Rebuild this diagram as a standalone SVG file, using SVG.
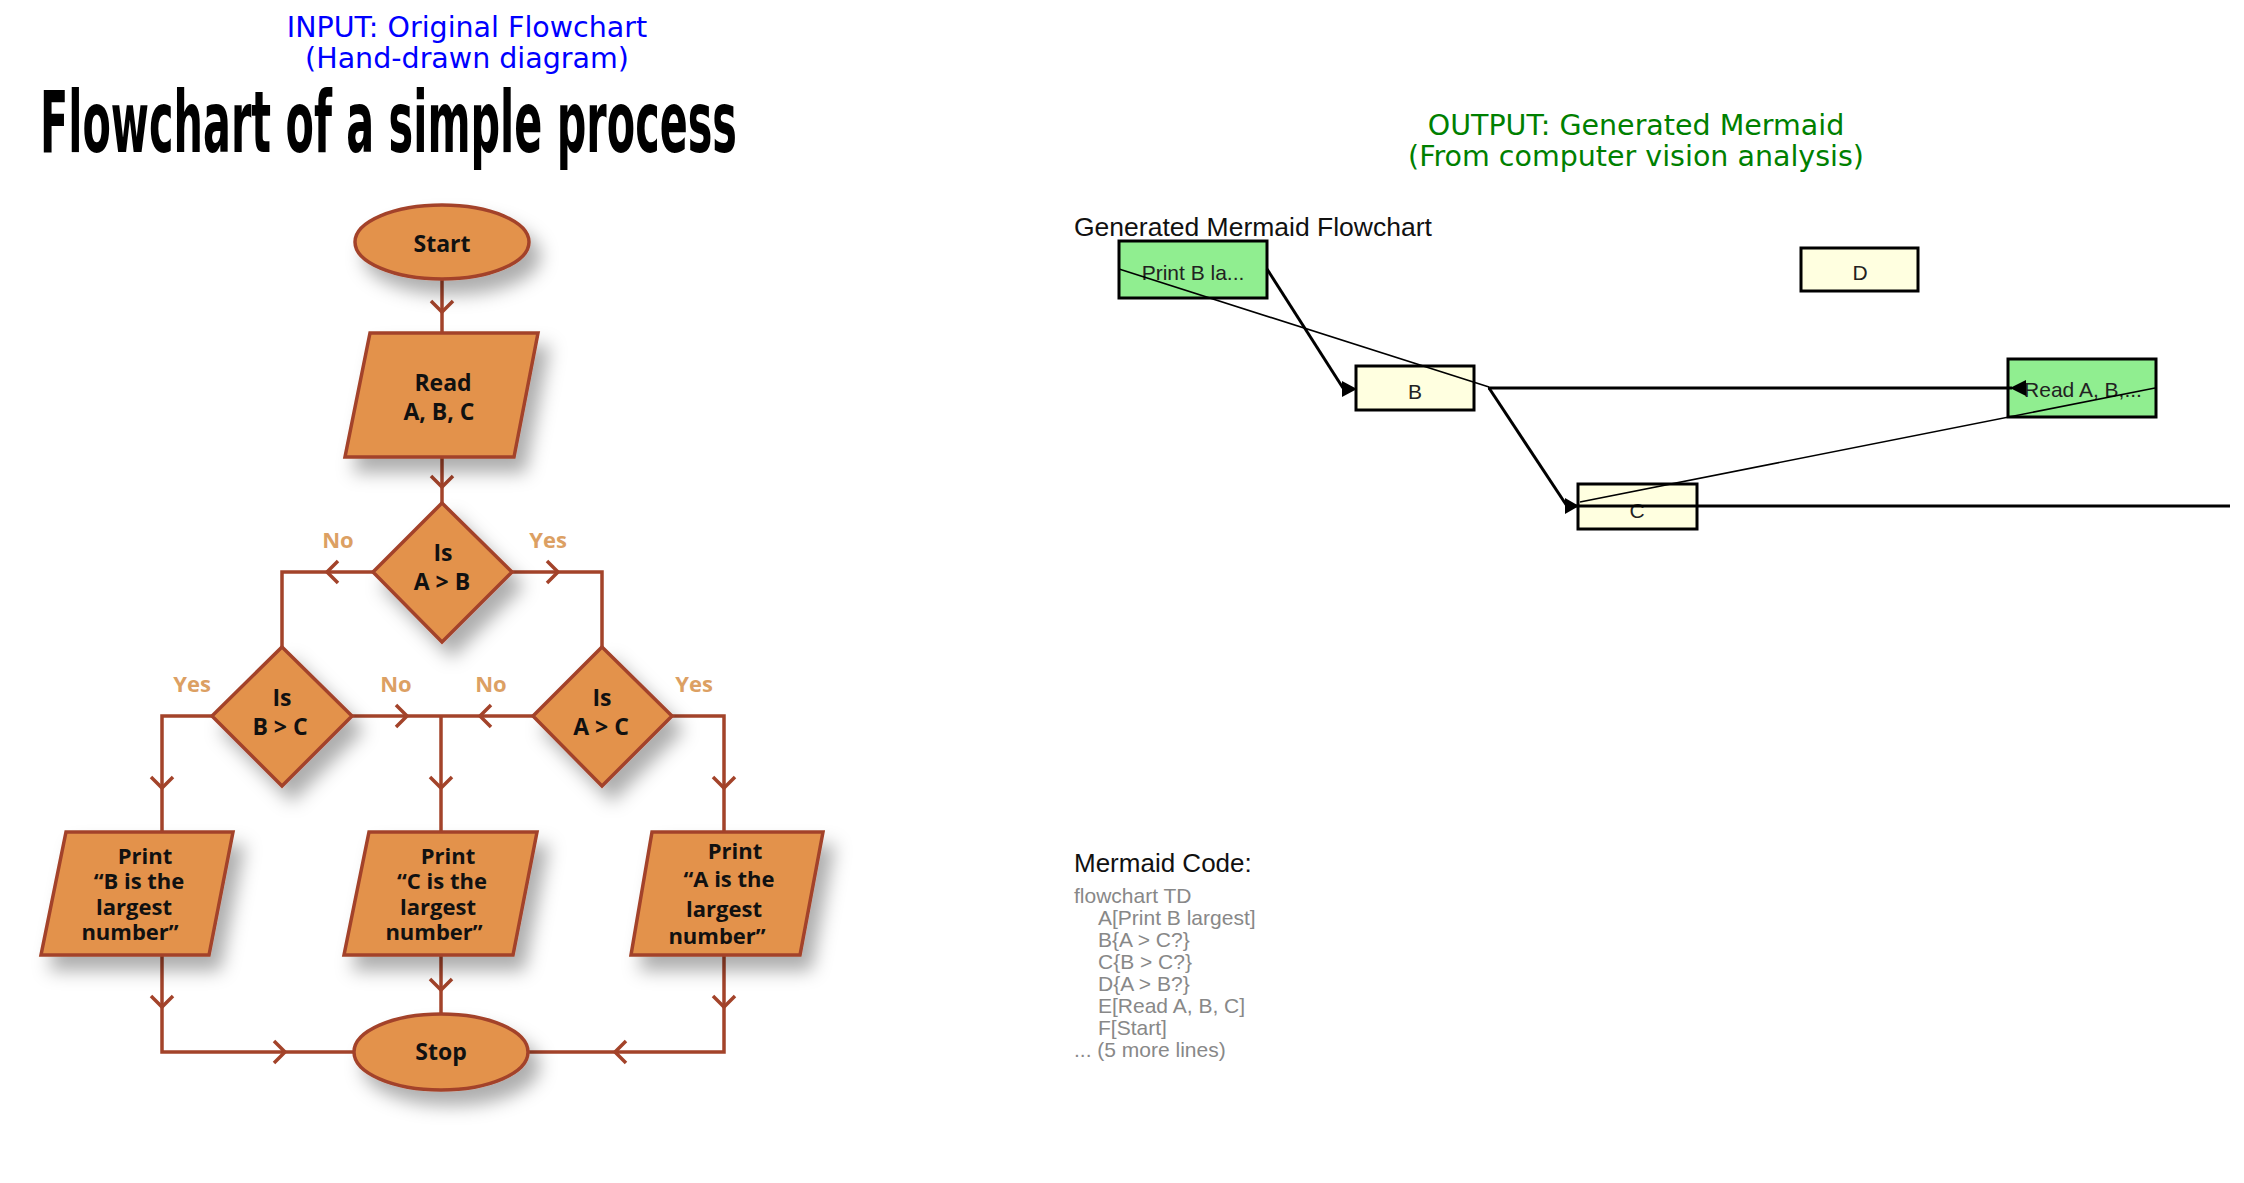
<svg xmlns="http://www.w3.org/2000/svg" width="2244" height="1183" viewBox="0 0 2244 1183">
<defs>
<filter id="sh" x="-30%" y="-30%" width="170%" height="180%">
<feDropShadow dx="10" dy="14" stdDeviation="9" flood-color="#000" flood-opacity="0.32"/>
</filter>
<style>
.hdr{font-family:"DejaVu Sans",sans-serif;font-size:28.5px;text-anchor:middle}
.node{fill:#e3924c;stroke:#a3432a;stroke-width:3.5}
.nt{font-family:"Open Sans","DejaVu Sans",sans-serif;font-weight:bold;font-size:23px;fill:#111;text-anchor:middle}
.pt{font-family:"Open Sans","DejaVu Sans",sans-serif;font-weight:bold;font-size:22px;fill:#111;text-anchor:middle}
.lbl{font-family:"Open Sans","DejaVu Sans",sans-serif;font-weight:bold;font-size:22px;fill:#dca063;text-anchor:middle}
.ln{fill:none;stroke:#a3432a;stroke-width:3.5}
.chev{fill:none;stroke:#a3432a;stroke-width:3.5;stroke-linejoin:miter}
.box{stroke:#000;stroke-width:3}
.g{fill:#90ee90}
.y{fill:#ffffe0}
.bt{font-family:"Liberation Sans",Arial,sans-serif;font-size:21px;fill:#222;text-anchor:middle}
.e1{fill:none;stroke:#000;stroke-width:3}
.e2{fill:none;stroke:#000;stroke-width:1.6}
.code{font-family:"Liberation Sans",Arial,sans-serif;font-size:21px;fill:#888}
</style>
</defs>
<rect width="2244" height="1183" fill="#fff"/>

<text class="hdr" fill="#0000ff" x="467" y="37">INPUT: Original Flowchart</text>
<text class="hdr" fill="#0000ff" x="467" y="68">(Hand-drawn diagram)</text>
<text x="40" y="152" font-family="'Liberation Sans Narrow','DejaVu Sans Condensed','Liberation Sans',sans-serif" font-weight="bold" font-stretch="condensed" font-size="86" textLength="697" lengthAdjust="spacingAndGlyphs" fill="#000">Flowchart of a simple process</text>

<text class="hdr" fill="#008000" x="1636" y="135">OUTPUT: Generated Mermaid</text>
<text class="hdr" fill="#008000" x="1636" y="166">(From computer vision analysis)</text>

<g id="connectors-left">
<path class="ln" d="M442,279 V333"/>
<path class="ln" d="M442,457 V503"/>
<path class="ln" d="M373,572 H282 V647"/>
<path class="ln" d="M512,572 H602 V647"/>
<path class="ln" d="M212,716 H162 V832"/>
<path class="ln" d="M352,716 H533"/>
<path class="ln" d="M441,716 V832"/>
<path class="ln" d="M672,716 H724 V832"/>
<path class="ln" d="M162,955 V1052 H354"/>
<path class="ln" d="M441,955 V1014"/>
<path class="ln" d="M724,955 V1052 H528"/>
<path class="chev" d="M431,301 L442,312 L453,301"/>
<path class="chev" d="M431,476 L442,487 L453,476"/>
<path class="chev" d="M151,777 L162,788 L173,777"/>
<path class="chev" d="M430,777 L441,788 L452,777"/>
<path class="chev" d="M713,777 L724,788 L735,777"/>
<path class="chev" d="M151,996 L162,1007 L173,996"/>
<path class="chev" d="M430,979 L441,990 L452,979"/>
<path class="chev" d="M713,996 L724,1007 L735,996"/>
<path class="chev" d="M338,561 L327,572 L338,583"/>
<path class="chev" d="M491,705 L480,716 L491,727"/>
<path class="chev" d="M626,1041 L615,1052 L626,1063"/>
<path class="chev" d="M547,561 L558,572 L547,583"/>
<path class="chev" d="M396,705 L407,716 L396,727"/>
<path class="chev" d="M274,1041 L285,1052 L274,1063"/>
<text class="lbl" x="338" y="548">No</text>
<text class="lbl" x="548" y="548">Yes</text>
<text class="lbl" x="192" y="692">Yes</text>
<text class="lbl" x="396" y="692">No</text>
<text class="lbl" x="491" y="692">No</text>
<text class="lbl" x="694" y="692">Yes</text>
</g>

<g id="start">
<ellipse class="node" filter="url(#sh)" cx="442" cy="242" rx="87" ry="37"/>
<text class="nt" x="442" y="252">Start</text>
</g>
<g id="read">
<polygon class="node" filter="url(#sh)" points="370,333 538,333 514,457 345,457"/>
<text class="nt" x="443" y="391" font-size="24">Read</text>
<text class="nt" x="439" y="420" font-size="24">A, B, C</text>
</g>
<g id="dec-ab">
<polygon class="node" filter="url(#sh)" points="442,503 512,572 442,642 373,572"/>
<text class="nt" x="443" y="561">Is</text>
<text class="nt" x="442" y="590">A &gt; B</text>
</g>
<g id="dec-bc">
<polygon class="node" filter="url(#sh)" points="282,647 352,716 282,786 212,716"/>
<text class="nt" x="282" y="706">Is</text>
<text class="nt" x="280" y="735">B &gt; C</text>
</g>
<g id="dec-ac">
<polygon class="node" filter="url(#sh)" points="602,647 672,716 602,786 533,716"/>
<text class="nt" x="602" y="706">Is</text>
<text class="nt" x="601" y="735">A &gt; C</text>
</g>
<g id="print-b">
<polygon class="node" filter="url(#sh)" points="66,832 233,832 209,955 41,955"/>
<text class="pt" x="145" y="864">Print</text>
<text class="pt" x="139" y="889">“B is the</text>
<text class="pt" x="134" y="915">largest</text>
<text class="pt" x="130" y="940">number”</text>
</g>
<g id="print-c">
<polygon class="node" filter="url(#sh)" points="369,832 537,832 513,955 344,955"/>
<text class="pt" x="448" y="864">Print</text>
<text class="pt" x="442" y="889">“C is the</text>
<text class="pt" x="438" y="915">largest</text>
<text class="pt" x="434" y="940">number”</text>
</g>
<g id="print-a">
<polygon class="node" filter="url(#sh)" points="652,832 823,832 800,955 631,955"/>
<text class="pt" x="735" y="859">Print</text>
<text class="pt" x="729" y="887">“A is the</text>
<text class="pt" x="724" y="917">largest</text>
<text class="pt" x="717" y="944">number”</text>
</g>
<g id="stop">
<ellipse class="node" filter="url(#sh)" cx="441" cy="1052" rx="87" ry="38"/>
<text class="nt" x="441" y="1060">Stop</text>
</g>

<text x="1074" y="236" font-family="'Liberation Sans',Arial,sans-serif" font-size="26.5" fill="#111">Generated Mermaid Flowchart</text>

<g id="m-printb">
<rect class="box g" x="1119" y="241" width="148" height="57"/>
<text class="bt" x="1193" y="280">Print B la...</text>
</g>
<g id="m-d">
<rect class="box y" x="1801" y="248" width="117" height="43"/>
<text class="bt" x="1860" y="280">D</text>
</g>
<g id="m-b">
<rect class="box y" x="1356" y="366" width="118" height="44"/>
<text class="bt" x="1415" y="399">B</text>
</g>
<g id="m-read">
<rect class="box g" x="2008" y="359" width="148" height="58"/>
<text class="bt" x="2083" y="397">Read A, B,...</text>
</g>
<g id="m-c">
<rect class="box y" x="1578" y="484" width="119" height="45"/>
<text class="bt" x="1637" y="518">C</text>
</g>

<g id="connectors-right">
<path class="e1" d="M1267,269 L1343,388"/>
<polygon points="1357,389 1342,381 1342,397" fill="#000"/>
<path class="e1" d="M1488,388 H2012"/>
<polygon points="2010,388 2026,380 2026,396" fill="#000"/>
<path class="e1" d="M1489,388 L1567,506"/>
<polygon points="1579,506 1565,498 1565,514" fill="#000"/>
<path class="e1" d="M1567,506 H2230" stroke-width="3.5"/>
<path class="e2" d="M1119,269 L1489,387"/>
<path class="e2" d="M2155,388 L1580,502"/>
</g>

<text x="1074" y="872" font-family="'Liberation Sans',Arial,sans-serif" font-size="26" fill="#111">Mermaid Code:</text>
<text class="code" x="1074" y="903">flowchart TD</text>
<text class="code" x="1098" y="925">A[Print B largest]</text>
<text class="code" x="1098" y="947">B{A &gt; C?}</text>
<text class="code" x="1098" y="969">C{B &gt; C?}</text>
<text class="code" x="1098" y="991">D{A &gt; B?}</text>
<text class="code" x="1098" y="1013">E[Read A, B, C]</text>
<text class="code" x="1098" y="1035">F[Start]</text>
<text class="code" x="1074" y="1057">... (5 more lines)</text>
</svg>
